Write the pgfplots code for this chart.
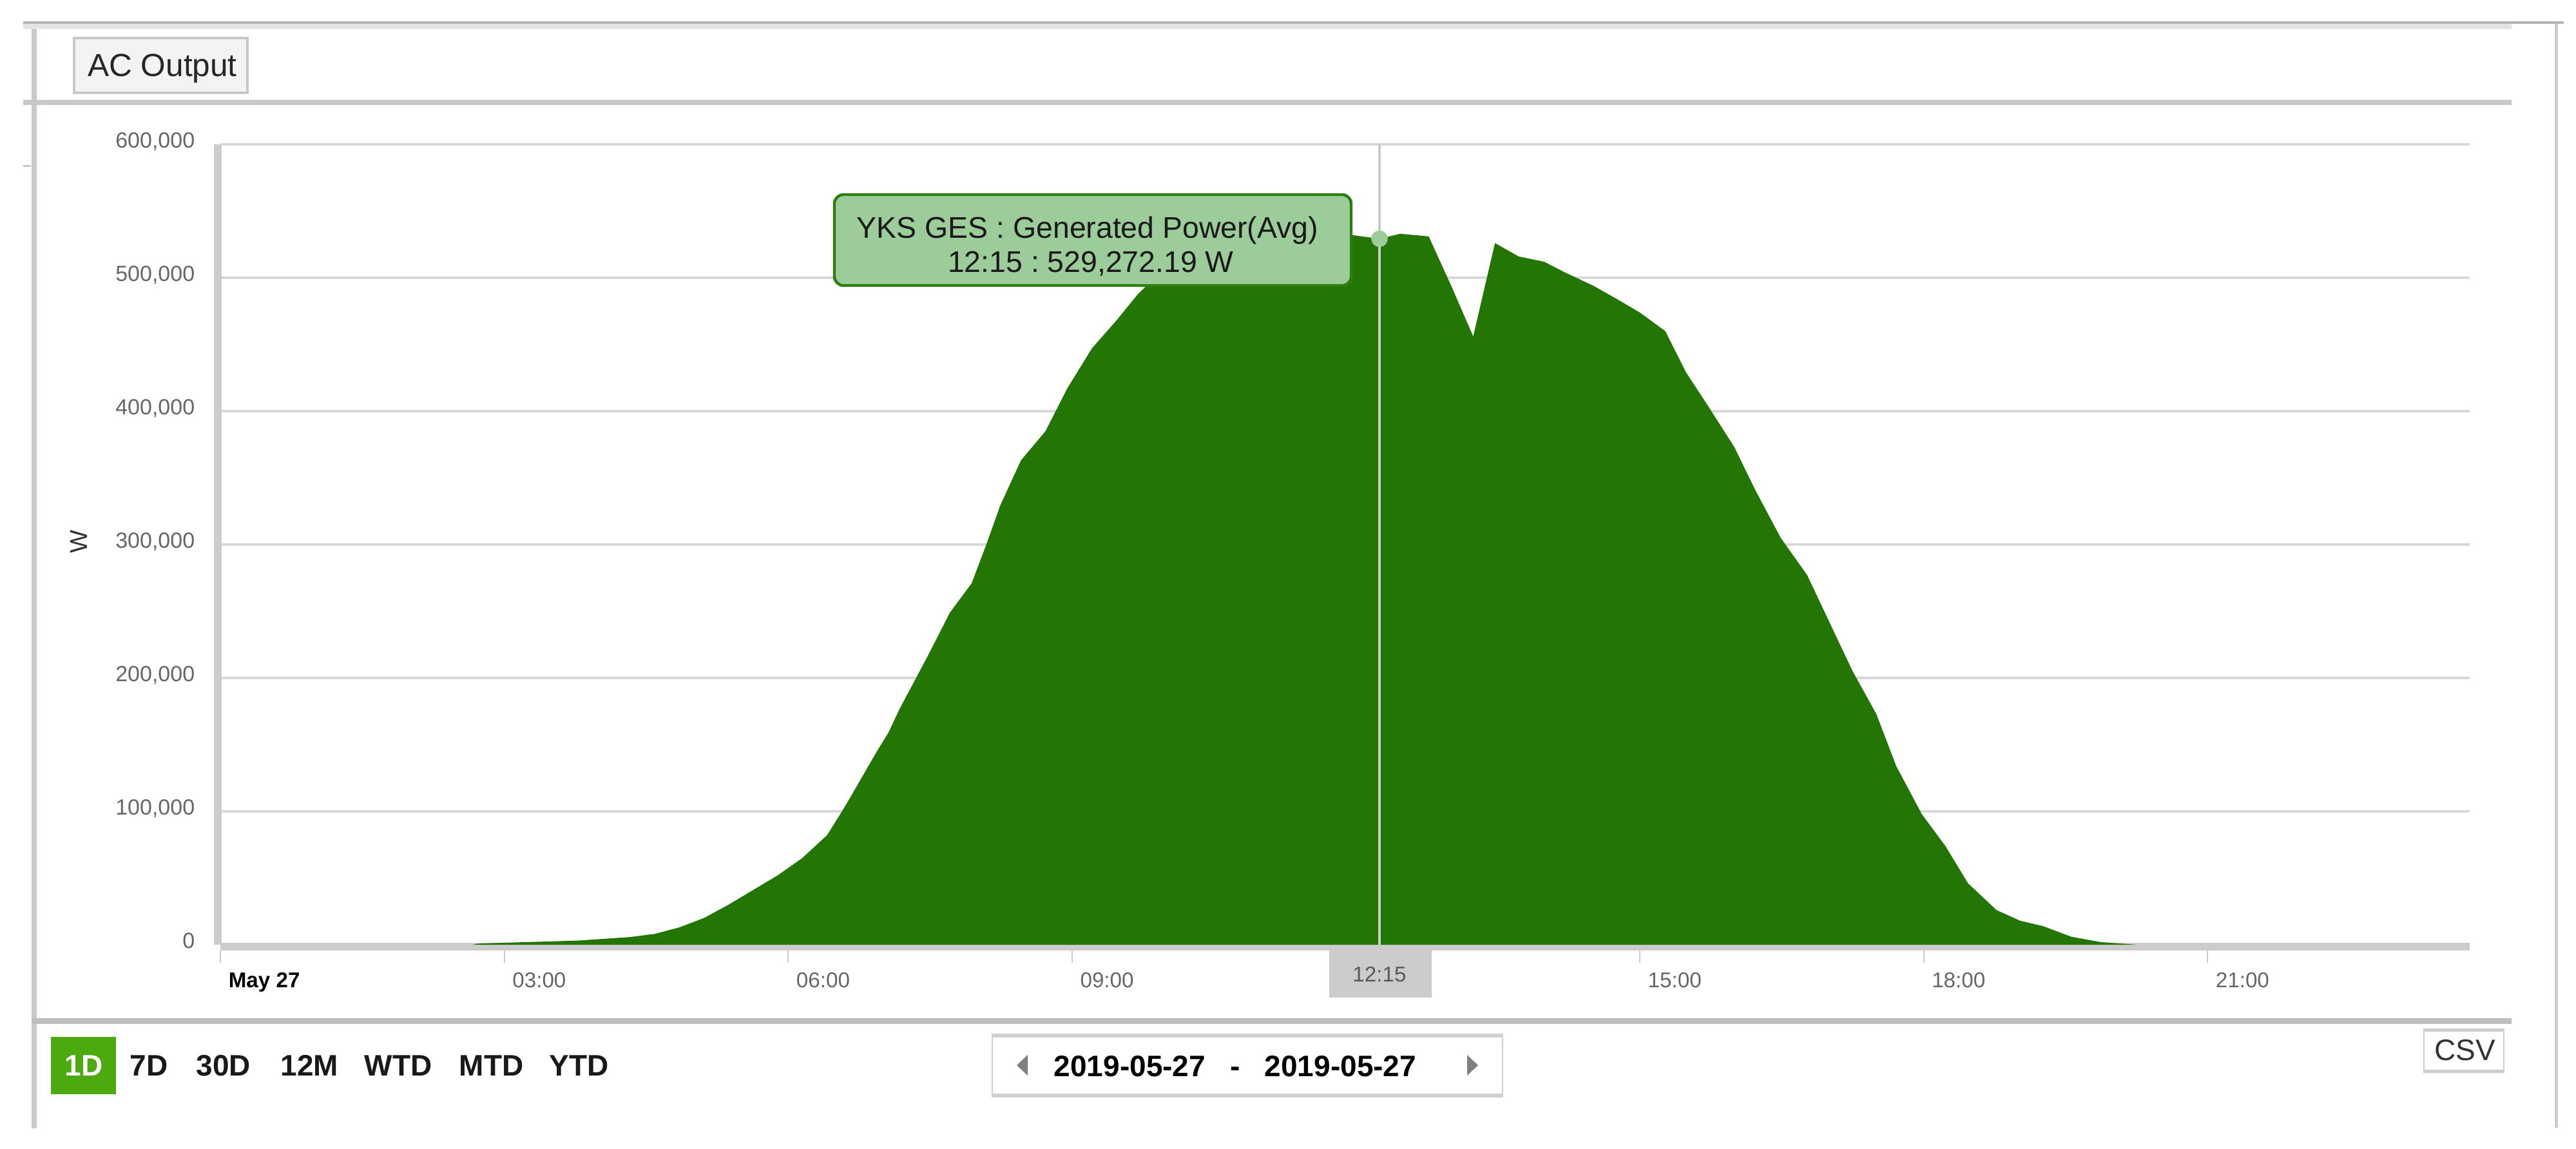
\documentclass[border=0pt]{standalone}
\usepackage{pgfplots}
\pgfplotsset{compat=1.18}
\usepackage{fontspec}
\setmainfont{Liberation Sans}
\frenchspacing

\definecolor{framedark}{HTML}{B4B4B4}
\definecolor{framelight}{HTML}{E4E4E4}
\definecolor{linegray}{HTML}{C8C8C8}
\definecolor{gridgray}{HTML}{D8D8D8}
\definecolor{axisgray}{HTML}{CCCCCC}
\definecolor{labelgray}{HTML}{666666}
\definecolor{areagreen}{RGB}{35,117,4}
\definecolor{tipfill}{RGB}{156,204,153}
\definecolor{tipborder}{RGB}{45,125,15}
\definecolor{markgreen}{RGB}{156,204,153}
\definecolor{oneD}{RGB}{76,170,16}
\definecolor{btnfill}{HTML}{F3F3F3}

\pgfplotstableread{
h w
2.67 0
2.72 800
3.00 1500
3.50 2500
3.80 3200
4.32 5700
4.59 8100
4.85 13000
5.11 20000
5.37 30000
5.63 41000
5.89 52000
6.15 65000
6.41 82000
6.57 100000
6.67 112000
6.80 128000
6.93 144000
7.06 159000
7.18 177000
7.48 217000
7.71 249000
7.94 271000
8.10 301000
8.24 329000
8.46 363000
8.72 385000
8.95 417000
9.21 447000
9.47 468000
9.70 488000
9.95 505000
10.25 515000
10.50 522000
10.75 526000
11.00 528000
11.25 530000
11.50 531000
11.75 531000
11.96 532000
12.25 529272.19
12.47 533000
12.77 531000
13.02 492000
13.24 456000
13.47 526000
13.72 516000
13.99 512000
14.21 504000
14.51 494000
14.76 484000
15.00 474000
15.27 460000
15.49 429000
15.73 403000
16.00 373000
16.22 341000
16.49 305000
16.77 277000
17.01 241000
17.25 205000
17.50 173000
17.71 134000
17.98 98000
18.23 74000
18.47 46000
18.77 26000
19.02 18000
19.26 14000
19.56 6000
19.87 2000
20.25 0
}\powerdata

\begin{document}
\begin{tikzpicture}
\begin{axis}[
  at={(85.5pt,-366.5pt)}, anchor=south west,
  scale only axis, width=872.75pt, height=310.5pt,
  xmin=0, xmax=23.771, ymin=0, ymax=600000,
  axis x line*=bottom, axis y line*=left,
  axis line style={-, draw=axisgray, line width=3pt},
  x axis line style={yshift=-0.75pt},
  y axis line style={xshift=-0.9pt},
  ymajorgrids, grid style={draw=gridgray, line width=0.9pt},
  xtick={0,3,6,9,12,15,18,21},
  xticklabels={{\color{black}\bfseries May 27},03:00,06:00,09:00,{},15:00,18:00,21:00},
  xtick style={draw=none},
  xticklabel style={anchor=base west, inner sep=0pt, xshift=3pt, yshift=-16.5pt,
    font=\fontsize{8.3}{10}\selectfont, text=labelgray},
  ytick={0,100000,200000,300000,400000,500000,600000},
  yticklabels={0,{100,000},{200,000},{300,000},{400,000},{500,000},{600,000}},
  ytick style={draw=none},
  yticklabel style={anchor=base east, inner sep=0pt, xshift=-9.75pt, yshift=-1.45pt,
    font=\fontsize{8.5}{10}\selectfont, text=labelgray},
  scaled y ticks=false,
  clip=false,
]
\addplot[fill=areagreen, draw=none] table[x=h, y=w] {\powerdata} \closedcycle;
\addplot[draw=axisgray, line width=1pt] coordinates {(12.25,0) (12.25,600000)};
\addplot[only marks, mark=*, mark size=3pt, draw=markgreen, fill=markgreen] coordinates {(12.25,529272.19)};
\end{axis}

\begin{scope}[x=0.25pt, y=-0.25pt]
  % frame
  \fill[framedark] (36,33) rectangle (3979,37);
  \fill[framelight] (36,37) rectangle (3898,45);
  \fill[linegray] (49,45) rectangle (57,1751);
  \fill[linegray] (36,155) rectangle (3898,163);
  \fill[linegray!95!black] (49,1580) rectangle (3898,1589);
  \fill[axisgray] (3965,37) rectangle (3970,1750);
  \fill[linegray] (36,256) rectangle (48,259);
  % x tick marks
  \foreach \t in {0,3,6,9,15,18,21} {
    \draw[axisgray, line width=0.5pt] ({342+\t*146.86},1475) -- ({342+\t*146.86},1494);
  }
  % AC Output button
  \draw[draw=linegray, fill=btnfill, line width=1pt] (115,59) rectangle (384,144);
  \node[anchor=base, inner sep=0pt, text=black!85, font=\fontsize{12.4}{14}\selectfont] at (252,118) {AC Output};
  % y label
  \node[rotate=90, inner sep=0pt, text=black!80, font=\fontsize{9.5}{11}\selectfont] at (122,841) {W};
  % crosshair label
  \fill[axisgray] (2063,1475) rectangle (2222,1548);
  \node[anchor=base, inner sep=0pt, text=black!65, font=\fontsize{8.3}{10}\selectfont] at (2141,1523) {12:15};
  % tooltip
  \draw[draw=tipborder, fill=tipfill, line width=1.1pt, rounded corners=3.5pt] (1295,302) rectangle (2097,443);
  \node[anchor=base, inner sep=0pt, text=black!90, font=\fontsize{11.6}{14}\selectfont] at (1688,369) {YKS GES : Generated Power(Avg)};
  \node[anchor=base, inner sep=0pt, text=black!90, font=\fontsize{11.6}{14}\selectfont] at (1693,422) {12:15 : 529,272.19 W};
  % bottom controls
  \fill[oneD] (79,1609) rectangle (180,1698);
  \node[anchor=base, inner sep=0pt, text=white, font=\fontsize{11.5}{14}\selectfont\bfseries] at (130,1669) {1D};
  \begin{scope}[every node/.style={anchor=base west, inner sep=0pt, text=black!90, font=\fontsize{11.5}{14}\selectfont\bfseries}]
    \node at (201,1669) {7D};
    \node at (304,1669) {30D};
    \node at (435,1669) {12M};
    \node at (565,1669) {WTD};
    \node at (712,1669) {MTD};
    \node at (852,1669) {YTD};
  \end{scope}
  % date box
  \draw[draw=framelight!80!gray, fill=white, line width=0.5pt] (1540,1605) rectangle (2332,1702);
  \fill[framelight!80!gray] (1540,1605) rectangle (2332,1610);
  \fill[framelight!80!gray] (1540,1697) rectangle (2332,1702);
  \fill[black!50] (1578,1653) -- (1595,1637) -- (1595,1669) -- cycle;
  \fill[black!50] (2294,1653) -- (2277,1637) -- (2277,1669) -- cycle;
  \begin{scope}[every node/.style={inner sep=0pt, text=black, font=\fontsize{11.5}{14}\selectfont\bfseries}]
    \node[anchor=base west] at (1635,1670) {2019-05-27};
    \node[anchor=base] at (1917,1670) {-};
    \node[anchor=base west] at (1962,1670) {2019-05-27};
  \end{scope}
  % CSV button
  \draw[draw=axisgray, fill=white, line width=0.5pt] (3762,1597) rectangle (3886,1664);
  \fill[axisgray] (3762,1597) rectangle (3886,1601);
  \fill[axisgray] (3762,1660) rectangle (3886,1664);
  \node[anchor=base, inner sep=0pt, text=black!80, font=\fontsize{11.5}{14}\selectfont] at (3826,1645) {CSV};
\end{scope}
\pgfresetboundingbox
\path[use as bounding box] (0,0) rectangle (999.5pt,-445.5pt);
\end{tikzpicture}
\end{document}
